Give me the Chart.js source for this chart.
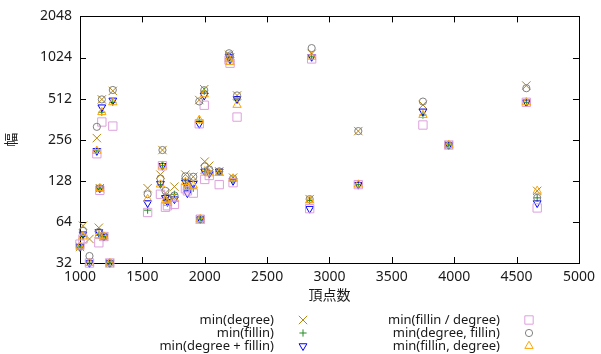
<!DOCTYPE html>
<html lang="ja">
<head>
  <meta charset="UTF-8">
  <title>頂点数と幅</title>
  <script src="https://cdn.jsdelivr.net/npm/chart.js"></script>
  <style>
    html, body { margin: 0; padding: 0; background: #fff; }
    #wrap { width: 601px; height: 354px; }
  </style>
</head>
<body>
<div id="wrap"><canvas id="widthChart" width="601" height="354"></canvas></div>

<script>
// 頂点数 (one entry per graph)
const vertices = [1000, 1024, 1076, 1135, 1151, 1159, 1175, 1191, 1239, 1263,
  1542, 1645, 1661, 1685, 1701, 1757, 1845, 1861, 1908, 1956,
  1964, 1996, 2000, 2036, 2116, 2195, 2203, 2227, 2259, 2841,
  2857, 3231, 3749, 3956, 4578, 4665];

// 幅 for each ordering heuristic
const minDegree = [42, 60, 48, 263, 58, 113, 505, 50, 32, 583,
  113, 142, 215, 104, 96, 116, 142, 122, 137, 500,
  67, 600, 177, 165, 150, 1070, 1024, 135, 540, 94,
  1090, 296, 460, 234, 638, 108];
const minFillin = [42, 50, 32, 212, 51, 113, 407, 50, 32, 481,
  78, 120, 165, 92, 88, 102, 128, 115, 113, 357,
  67, 580, 150, 145, 150, 1040, 990, 130, 500, 92,
  1036, 120, 388, 234, 481, 96];
const minDegreePlusFillin = [42, 52, 32, 212, 54, 113, 443, 50, 32, 497,
  88, 122, 165, 96, 90, 94, 125, 104, 122, 335,
  67, 540, 150, 145, 150, 1040, 990, 128, 510, 80,
  1036, 120, 413, 234, 481, 88];
const minFillinPerDegree = [44, 48, 32, 202, 45, 109, 345, 50, 32, 322,
  75, 102, 165, 82, 84, 86, 112, 108, 104, 335,
  67, 458, 131, 140, 120, 980, 930, 124, 375, 80,
  1000, 120, 328, 234, 481, 81];
const minDegreeFillin = [42, 55, 36, 318, 54, 113, 505, 50, 32, 592,
  102, 133, 215, 108, 96, 100, 138, 118, 137, 488,
  67, 590, 163, 155, 150, 1100, 1060, 133, 540, 94,
  1200, 296, 487, 234, 610, 96];
const minFillinDegree = [42, 50, 32, 212, 51, 113, 407, 50, 32, 481,
  94, 120, 165, 92, 88, 94, 125, 115, 118, 357,
  67, 550, 150, 145, 146, 1000, 950, 133, 460, 92,
  1036, 120, 388, 234, 481, 108];

const xTicks = [1000, 1500, 2000, 2500, 3000, 3500, 4000, 4500, 5000];
const yTicks = [32, 64, 128, 256, 512, 1024, 2048];

const seriesLabels = ['min(degree)', 'min(fillin)', 'min(degree + fillin)',
  'min(fillin / degree)', 'min(degree, fillin)', 'min(fillin, degree)'];
const seriesValues = [minDegree, minFillin, minDegreePlusFillin,
  minFillinPerDegree, minDegreeFillin, minFillinDegree];

const looks = [
  { color: '#b8860b', style: 'crossRot', radius: 5.9, rot: 0 },
  { color: '#228b22', style: 'cross', radius: 3.6, rot: 0 },
  { color: '#0000ff', style: 'triangle', radius: 4.5, rot: 180 },
  { color: '#dda0dd', style: 'rect', radius: 5.9, rot: 0 },
  { color: '#808080', style: 'circle', radius: 3.6, rot: 0 },
  { color: '#ffa500', style: 'triangle', radius: 4.8, rot: 0 }
];

const FONT = "'Noto Sans', 'Noto Sans CJK JP', sans-serif";
Chart.defaults.font.family = FONT;
Chart.defaults.font.size = 14;
Chart.defaults.color = '#1a1a1a';

const datasets = seriesLabels.map((label, s) => ({
  label: label,
  data: vertices.map((v, i) => ({ x: v, y: seriesValues[s][i] })),
  pointStyle: looks[s].style,
  pointRadius: looks[s].radius,
  pointRotation: looks[s].rot,
  pointBorderWidth: 1,
  borderColor: looks[s].color,
  backgroundColor: 'rgba(0,0,0,0)',
  pointBackgroundColor: 'rgba(0,0,0,0)',
  showLine: false,
  clip: false,
  order: seriesLabels.length - s
}));

// border with inward tick marks on all four sides, gnuplot style
const frame = {
  id: 'frame',
  beforeDatasetsDraw(chart) {
    const { ctx, chartArea: a, scales } = chart;
    ctx.save();
    ctx.strokeStyle = '#000';
    ctx.lineWidth = 1;
    ctx.beginPath();
    xTicks.forEach(t => {
      const px = Math.round(scales.x.getPixelForValue(t)) + 0.5;
      ctx.moveTo(px, a.bottom); ctx.lineTo(px, a.bottom - 6);
      ctx.moveTo(px, a.top); ctx.lineTo(px, a.top + 6);
    });
    yTicks.forEach(t => {
      const py = Math.round(scales.y.getPixelForValue(t)) + 0.5;
      ctx.moveTo(a.left, py); ctx.lineTo(a.left + 6, py);
      ctx.moveTo(a.right, py); ctx.lineTo(a.right - 6, py);
    });
    ctx.stroke();
    ctx.strokeRect(Math.round(a.left) + 0.5, Math.round(a.top) + 0.5,
      Math.round(a.right - a.left), Math.round(a.bottom - a.top));
    ctx.restore();
  }
};

// two-column key below the plot: label right-aligned, symbol to its right
const key = {
  id: 'key',
  afterDraw(chart) {
    const ctx = chart.ctx;
    ctx.save();
    ctx.font = '13px ' + FONT;
    ctx.textAlign = 'right';
    ctx.textBaseline = 'middle';
    chart.data.datasets.forEach((ds, i) => {
      const col = Math.floor(i / 3), row = i % 3;
      const y = 320 + row * 13;
      ctx.fillStyle = '#1a1a1a';
      ctx.fillText(ds.label, col ? 500 : 274, y);
      ctx.strokeStyle = ds.borderColor;
      ctx.fillStyle = 'rgba(0,0,0,0)';
      ctx.lineWidth = 1;
      Chart.helpers.drawPoint(ctx, {
        pointStyle: ds.pointStyle, rotation: ds.pointRotation,
        radius: ds.pointRadius, borderWidth: 1
      }, col ? 529 : 303, y);
    });
    ctx.restore();
  }
};

new Chart(document.getElementById('widthChart'), {
  type: 'scatter',
  data: { datasets: datasets },
  plugins: [frame, key],
  options: {
    responsive: false,
    animation: false,
    layout: { padding: { top: 13, right: 19, bottom: 50, left: 0 } },
    plugins: { legend: { display: false }, tooltip: { enabled: false } },
    scales: {
      x: {
        type: 'linear', min: 1000, max: 5000,
        grid: { display: false, drawTicks: false },
        border: { display: false },
        afterBuildTicks: s => { s.ticks = xTicks.map(v => ({ value: v })); },
        ticks: { padding: 6, maxRotation: 0, callback: v => String(v) },
        title: { display: true, text: '頂点数', padding: { top: 0, bottom: 0 } },
        afterFit: s => { s.height = 41; }
      },
      y: {
        type: 'logarithmic', min: 32, max: 2048,
        grid: { display: false, drawTicks: false },
        border: { display: false },
        afterBuildTicks: s => { s.ticks = yTicks.map(v => ({ value: v })); },
        ticks: { padding: 8, callback: v => String(v) },
        title: { display: true, text: '幅', padding: { top: 4, bottom: 0 } },
        afterFit: s => { s.width = 80; }
      }
    }
  }
});
</script>
</body>
</html>
